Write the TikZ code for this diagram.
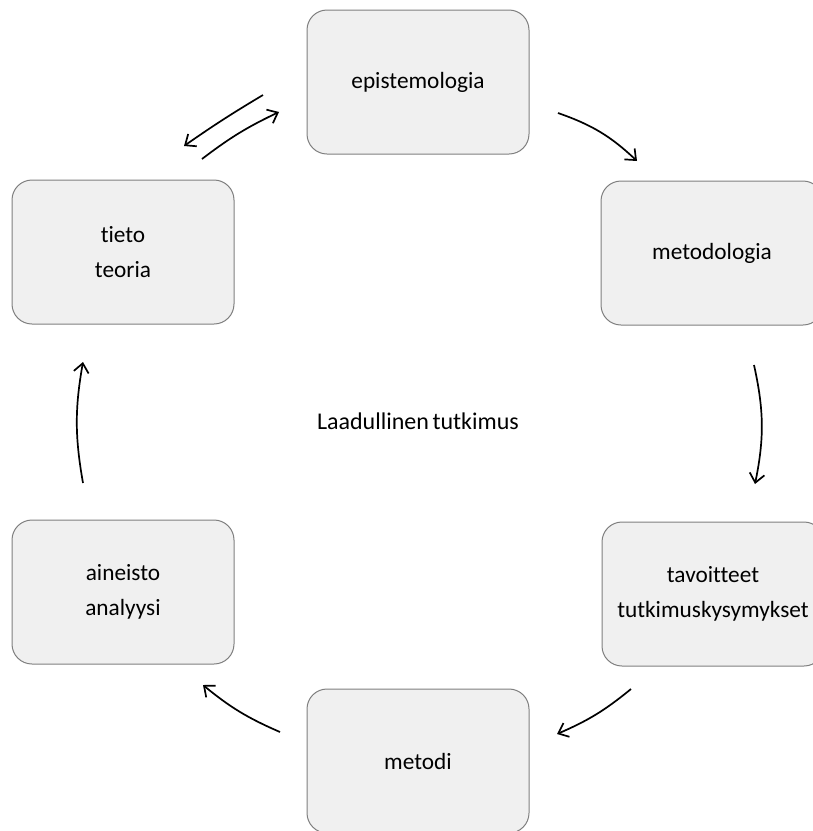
\documentclass[tikz,border=0pt]{standalone}
\usepackage{fontspec}
\setmainfont{Carlito}[Ligatures={NoCommon}]
\usetikzlibrary{arrows.meta}
\definecolor{boxfill}{HTML}{F0F0F0}
\definecolor{boxline}{HTML}{7F7F7F}
\tikzset{
  stage/.style={draw=boxline, line width=1pt, fill=boxfill, rounded corners=20pt,
    minimum width=222pt, minimum height=144pt, inner sep=0pt, align=center,
    font=\fontsize{23.3}{34.5}\selectfont},
  flow/.style={line width=1.7pt, -{Straight Barb[length=9pt,width=15pt,line width=1.7pt]}},
}
\begin{document}
\begin{tikzpicture}[x=1pt,y=-1pt]
\useasboundingbox (0,0) rectangle (813,831);
\node[stage] (epi) at (418,82) {epistemologia};
\node[stage] (met) at (712,253) {metodologia};
\node[stage] (tav) at (713,594) {tavoitteet\\tutkimuskysymykset};
\node[stage] (mtd) at (418,761) {metodi};
\node[stage] (ain) at (123,592) {aineisto\\analyysi};
\node[stage] (tie) at (123,252) {tieto\\teoria};
\node[font=\fontsize{24}{28}\selectfont] (center) at (418,421) {Laadullinen\hspace{0.15em}tutkimus};

\coordinate (a1s) at (263,95);  \coordinate (a1e) at (184,146);
\coordinate (a2s) at (202,159); \coordinate (a2e) at (279,112);
\coordinate (a3s) at (558,113); \coordinate (a3e) at (637,161);
\coordinate (a4s) at (754,365); \coordinate (a4e) at (755,484);
\coordinate (a5s) at (631,689); \coordinate (a5e) at (557,734);
\coordinate (a6s) at (280,732); \coordinate (a6e) at (203,685);
\coordinate (a7s) at (83,483);  \coordinate (a7e) at (83,362);

\draw[flow] (a1s) to[bend right=2] (a1e);
\draw[flow] (a2s) to[bend left=6] (a2e);
\draw[flow] (a3s) to[bend left=12] (a3e);
\draw[flow] (a4s) to[bend left=12] (a4e);
\draw[flow] (a5s) to[bend left=8] (a5e);
\draw[flow] (a6s) to[bend left=8] (a6e);
\draw[flow] (a7s) to[bend left=10] (a7e);
\end{tikzpicture}
\end{document}
